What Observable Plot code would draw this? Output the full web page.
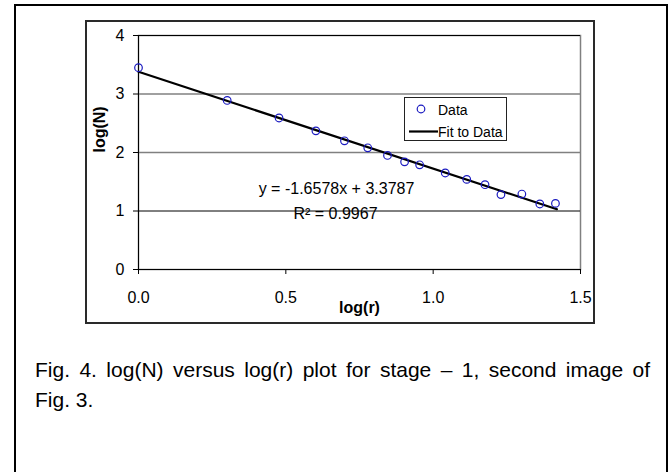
<!DOCTYPE html>
<html><head><meta charset="utf-8">
<script src="https://cdn.jsdelivr.net/npm/d3@7"></script>
<script src="https://cdn.jsdelivr.net/npm/@observablehq/plot@0.6"></script>
<style>
html,body{margin:0;padding:0;background:#fff;overflow:hidden}
#page{position:relative;width:672px;height:472px;font-family:"Liberation Sans",Arial,sans-serif;color:#000;overflow:hidden}
#border{position:absolute;left:14px;top:4px;width:654px;height:520px;box-sizing:border-box;border:2px solid #000;border-bottom:none}
#frame{position:absolute;left:85px;top:20px;width:510px;height:304px;box-sizing:border-box;border:2px solid #2a2a2a}
#chart{position:absolute;left:0;top:0}
#legend{position:absolute;left:404px;top:97px;width:103px;height:44px;box-sizing:border-box;border:1px solid #222;background:#fff;font-size:14px}
#legend .item{position:absolute;left:0;width:100px;height:20px}
#legend svg{position:absolute;left:0;top:0}
#legend span{position:absolute;left:33px;top:2px;line-height:16px;white-space:nowrap}
#caption{position:absolute;left:35px;top:355px;width:615px;font-size:21px;line-height:30px}
#caption .l1{text-align:justify;text-align-last:justify;white-space:nowrap}
</style>
</head><body>
<div id="page">
  <div id="border"></div>
  <div id="frame"></div>
  <div id="chart"></div>
  <div id="legend"></div>
  <div id="caption"></div>
</div>
<script>
// ---- data ----
const logR = [0, 0.301, 0.477, 0.602, 0.699, 0.778, 0.845, 0.903, 0.954, 1.041, 1.114, 1.176, 1.230, 1.301, 1.362, 1.415];
const logN = [3.45, 2.89, 2.59, 2.37, 2.20, 2.08, 1.95, 1.84, 1.79, 1.65, 1.54, 1.45, 1.28, 1.29, 1.12, 1.13];
const fitX = [0, 1.42];
const fitY = [3.38, 1.03];
const xTicks = [0, 0.5, 1.0, 1.5];
const xTickLabels = ["0.0", "0.5", "1.0", "1.5"];
const yTicks = [0, 1, 2, 3, 4];
const xLabel = "log(r)";
const yLabel = "log(N)";
const seriesNames = ["Data", "Fit to Data"];
const equationText = "y = -1.6578x + 3.3787";
const r2Text = "R\u00B2 = 0.9967";
const captionLines = ["Fig. 4. log(N) versus log(r) plot for stage \u2013 1, second image of", "Fig. 3."];

const points = logR.map((x, i) => ({x, y: logN[i]}));
const fit = fitX.map((x, i) => ({x, y: fitY[i]}));

const font = '"Liberation Sans", Arial, sans-serif';
const markerColor = "#1a1ac0";

const chart = Plot.plot({
  width: 672, height: 330,
  marginLeft: 138, marginRight: 92, marginTop: 35, marginBottom: 61,
  style: {fontFamily: font, fontSize: "16px", color: "#000", background: "transparent", overflow: "visible"},
  x: {domain: [0, 1.5], label: null},
  y: {domain: [0, 4], label: null},
  marks: [
    Plot.frame({stroke: "#808080", strokeWidth: 1.5}),
    Plot.ruleY(yTicks, {filter: d => d === 2 || d === 3, stroke: "#808080", strokeWidth: 1.5}),
    Plot.ruleY(yTicks, {filter: d => d === 0 || d === 1 || d === 4, stroke: "#000", strokeWidth: 1}),
    Plot.ruleX(xTicks, {filter: d => d === 0, stroke: "#000", strokeWidth: 1}),
    Plot.axisX(xTicks, {tickSize: 5, tickPadding: 17, tickFormat: (d, i) => xTickLabels[i], fontSize: 16, label: null}),
    Plot.axisY(yTicks, {tickSize: 5, tickPadding: 9, tickFormat: d => String(d), fontSize: 16, label: null}),
    Plot.line(fit, {x: "x", y: "y", stroke: "#000", strokeWidth: 2.2}),
    Plot.dot(points, {x: "x", y: "y", r: 3.8, stroke: markerColor, strokeWidth: 1.2, fill: "none"}),
    Plot.text([equationText], {text: d => d, frameAnchor: "top-left", dx: 198, dy: 147, fontSize: 16, textAnchor: "middle"}),
    Plot.text([r2Text], {text: d => d, frameAnchor: "top-left", dx: 197, dy: 172, fontSize: 16, textAnchor: "middle"}),
    Plot.text([xLabel], {text: d => d, frameAnchor: "bottom", dy: 43, fontSize: 16, fontWeight: "bold"}),
    Plot.text([yLabel], {text: d => d, frameAnchor: "left", dx: -39, rotate: -90, fontSize: 16, fontWeight: "bold"})
  ]
});
document.getElementById("chart").appendChild(chart);

// legend
const legend = document.getElementById("legend");
seriesNames.forEach((name, i) => {
  const item = document.createElement("div");
  item.className = "item";
  item.style.top = (i === 0 ? 2 : 24) + "px";
  const sym = i === 0
    ? `<svg width="32" height="20"><circle cx="16" cy="9" r="3.8" fill="none" stroke="${markerColor}" stroke-width="1.2"/></svg>`
    : `<svg width="34" height="20"><line x1="4" x2="33" y1="9.5" y2="9.5" stroke="#000" stroke-width="2.2"/></svg>`;
  item.innerHTML = sym + `<span>${name}</span>`;
  legend.appendChild(item);
});

// caption
const cap = document.getElementById("caption");
captionLines.forEach((t, i) => {
  const d = document.createElement("div");
  if (i === 0) d.className = "l1";
  d.textContent = t;
  cap.appendChild(d);
});
</script>
</body></html>
